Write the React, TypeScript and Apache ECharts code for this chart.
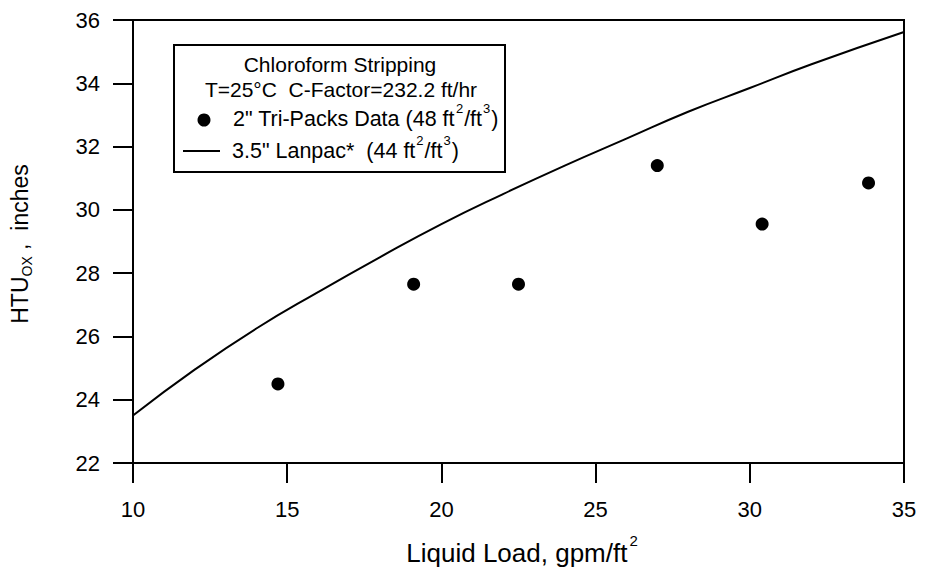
import React, { useEffect, useRef } from "react";
import * as echarts from "echarts";

// Measured HTU for 2" Tri-Packs at each liquid load (gpm/ft²)
const triPacksLoad = [14.7, 19.1, 22.5, 27.0, 30.4, 33.85];
const triPacksHTU = [24.5, 27.65, 27.65, 31.4, 29.55, 30.85];

// 3.5" Lanpac correlation curve
const lanpacLoad = [10, 12, 14, 16, 18, 20, 22, 24, 26, 28, 30, 32, 35];
const lanpacHTU = [23.5, 24.95, 26.25, 27.4, 28.5, 29.55, 30.5, 31.4, 32.25, 33.1, 33.85, 34.6, 35.62];

// Axis ranges and ticks
const xMin = 10;
const xMax = 35;
const xStep = 5;
const yMin = 22;
const yMax = 36;
const yStep = 2;

// Legend box texts
const legendTitle = "Chloroform Stripping";
const legendSubtitle = "T=25\u00b0C  C-Factor=232.2 ft/hr";
const triPacksName = "{n|2\" Tri-Packs Data (48 ft}{sup|2}{n|/ft}{sup|3}{n|)}";
const lanpacName = "{n|3.5\" Lanpac*  (44 ft}{sup|2}{n|/ft}{sup|3}{n|)}";
const xTitle = "{n|Liquid Load, gpm/ft}{sup|2}";
const yTitle = "{n|HTU}{sub|OX}{n| ,  inches}";

const FONT = "'Liberation Sans', Arial, Helvetica, sans-serif";
const INK = "#000000";

const legendText = {
  fontSize: 21.5,
  lineHeight: 24,
  fontFamily: FONT,
  fill: INK,
  color: INK,
};

const legendSup = {
  fontSize: 13,
  lineHeight: 13,
  fontFamily: FONT,
  fill: INK,
  color: INK,
  padding: [0, 1, 22, 1],
};

const titleText = {
  fontSize: 26,
  lineHeight: 28,
  fontFamily: FONT,
  fill: INK,
  color: INK,
};

const titleSup = {
  fontSize: 15,
  lineHeight: 15,
  fontFamily: FONT,
  fill: INK,
  color: INK,
  padding: [0, 0, 26, 2],
};

const yTitleText = {
  fontSize: 23,
  lineHeight: 26,
  fontFamily: FONT,
  fill: INK,
  color: INK,
};

const yTitleSub = {
  fontSize: 14,
  lineHeight: 14,
  fontFamily: FONT,
  fill: INK,
  color: INK,
  padding: [14, 0, 0, 0],
};

export default function App() {
  const ref = useRef<HTMLDivElement>(null);

  useEffect(() => {
    if (!ref.current) return;
    const chart = echarts.init(ref.current, null, { renderer: "svg" });

    const option = {
      animation: false,
      backgroundColor: "#ffffff",
      grid: {
        left: 133,
        right: 21,
        top: 20,
        bottom: 109,
        show: true,
        borderColor: INK,
        borderWidth: 2,
        backgroundColor: "transparent",
      },
      xAxis: {
        type: "value",
        min: xMin,
        max: xMax,
        interval: xStep,
        axisLine: { show: true, lineStyle: { color: INK, width: 2 } },
        axisTick: { show: true, inside: false, length: 20, lineStyle: { color: INK, width: 2 } },
        splitLine: { show: false },
        axisLabel: {
          color: INK,
          fontSize: 22,
          fontFamily: FONT,
          margin: 46,
          verticalAlign: "middle",
        },
      },
      yAxis: {
        type: "value",
        min: yMin,
        max: yMax,
        interval: yStep,
        axisLine: { show: true, lineStyle: { color: INK, width: 2 } },
        axisTick: { show: true, inside: false, length: 20, lineStyle: { color: INK, width: 2 } },
        splitLine: { show: false },
        axisLabel: {
          color: INK,
          fontSize: 22,
          fontFamily: FONT,
          margin: 33,
          align: "right",
        },
      },
      series: [
        {
          name: "3.5\" Lanpac",
          type: "line",
          smooth: true,
          symbol: "none",
          lineStyle: { color: INK, width: 2 },
          data: lanpacLoad.map((x, i) => [x, lanpacHTU[i]]),
          z: 2,
        },
        {
          name: "2\" Tri-Packs Data",
          type: "scatter",
          symbol: "circle",
          symbolSize: 13,
          itemStyle: { color: INK, opacity: 1 },
          data: triPacksLoad.map((x, i) => [x, triPacksHTU[i]]),
          z: 3,
        },
      ],
      graphic: [
        // legend frame
        {
          type: "rect",
          shape: { x: 174, y: 45, width: 331, height: 127 },
          style: { fill: "#ffffff", stroke: INK, lineWidth: 2 },
          z: 10,
        },
        {
          type: "text",
          x: 340,
          y: 64,
          style: {
            text: legendTitle,
            fontSize: 21,
            fontFamily: FONT,
            fill: INK,
            align: "center",
            verticalAlign: "middle",
          },
          z: 11,
        },
        {
          type: "text",
          x: 341,
          y: 89,
          style: {
            text: legendSubtitle,
            fontSize: 21,
            fontFamily: FONT,
            fill: INK,
            align: "center",
            verticalAlign: "middle",
          },
          z: 11,
        },
        {
          type: "circle",
          shape: { cx: 204, cy: 120, r: 6.5 },
          style: { fill: INK },
          z: 11,
        },
        {
          type: "text",
          x: 233,
          y: 119,
          style: {
            text: triPacksName,
            fontFamily: FONT,
            fill: INK,
            align: "left",
            verticalAlign: "middle",
            rich: { n: legendText, sup: legendSup },
          },
          z: 11,
        },
        {
          type: "line",
          shape: { x1: 183, y1: 151, x2: 220, y2: 151 },
          style: { stroke: INK, lineWidth: 2 },
          z: 11,
        },
        {
          type: "text",
          x: 232,
          y: 151,
          style: {
            text: lanpacName,
            fontFamily: FONT,
            fill: INK,
            align: "left",
            verticalAlign: "middle",
            rich: { n: legendText, sup: legendSup },
          },
          z: 11,
        },
        // x axis title
        {
          type: "text",
          x: 522,
          y: 553,
          style: {
            text: xTitle,
            fontFamily: FONT,
            fill: INK,
            align: "center",
            verticalAlign: "middle",
            rich: { n: titleText, sup: titleSup },
          },
        },
        // y axis title
        {
          type: "text",
          x: 20,
          y: 244,
          rotation: Math.PI / 2,
          style: {
            text: yTitle,
            fontFamily: FONT,
            fill: INK,
            align: "center",
            verticalAlign: "middle",
            rich: { n: yTitleText, sub: yTitleSub },
          },
        },
      ],
    };

    chart.setOption(option);
    return () => chart.dispose();
  }, []);

  return <div ref={ref} style={{ width: 925, height: 572, position: "absolute", left: 0, top: 0 }} />;
}
